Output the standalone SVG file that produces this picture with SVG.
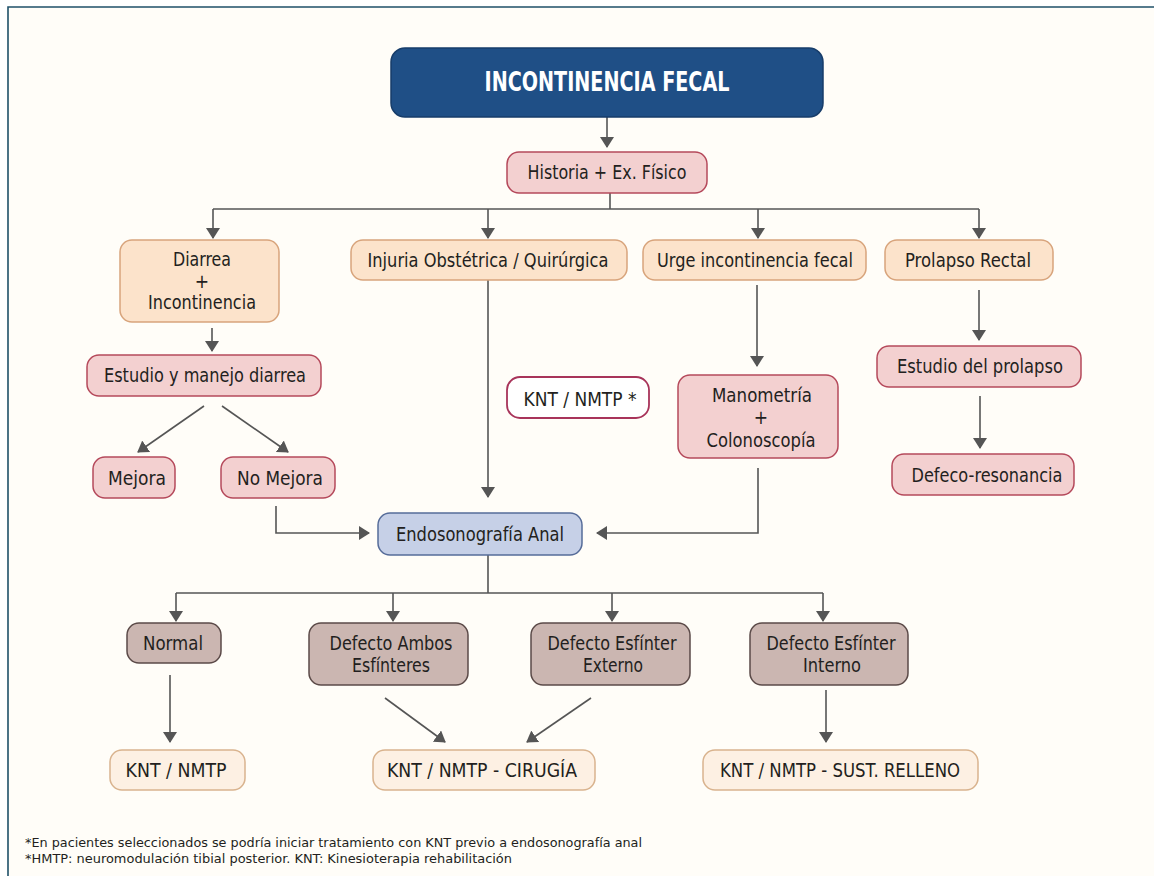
<svg xmlns="http://www.w3.org/2000/svg" width="1154" height="876" viewBox="0 0 1154 876">
<defs>
<marker id="ah" markerUnits="userSpaceOnUse" markerWidth="11" markerHeight="14" viewBox="0 0 11 14" refX="10" refY="7" orient="auto">
<path d="M0,0 L11,7 L0,14 z" fill="#555"/>
</marker>
<style>
text{font-family:"Liberation Sans Narrow","DejaVu Sans Condensed","Liberation Sans",sans-serif;font-size:19px;fill:#231f20;text-anchor:middle;}
.title{font-size:26px;font-weight:bold;fill:#ffffff;}
.foot{font-size:13px;text-anchor:start;}
.pink{fill:#f3d0d0;stroke:#b5495b;stroke-width:1.5;}
.peach{fill:#fce3cb;stroke:#d8a47c;stroke-width:1.5;}
.brown{fill:#cbb6b1;stroke:#5b4a48;stroke-width:1.5;}
.light{fill:#fdf0e3;stroke:#d9b38e;stroke-width:1.5;}
.blue{fill:#c6d0e7;stroke:#566c99;stroke-width:1.5;}
.white{fill:#ffffff;stroke:#a8345a;stroke-width:1.8;}
.c{fill:none;stroke:#555;stroke-width:1.6;}
</style>
</defs>
<rect x="0" y="0" width="1154" height="876" fill="#ffffff"/>
<rect x="8" y="7" width="1146" height="869" fill="#fffdf8"/>
<path d="M8,876 V7 H1154" fill="none" stroke="#1f5068" stroke-width="1.6"/>

<g id="connectors">
<path class="c" d="M607,117 V147" marker-end="url(#ah)"/>
<path class="c" d="M610,193 V209 M213,209 H979"/>
<path class="c" d="M213,209 V238" marker-end="url(#ah)"/>
<path class="c" d="M488,209 V238" marker-end="url(#ah)"/>
<path class="c" d="M758,209 V238" marker-end="url(#ah)"/>
<path class="c" d="M979,209 V238" marker-end="url(#ah)"/>
<path class="c" d="M212,328 V351" marker-end="url(#ah)"/>
<path class="c" d="M204,406 L138,452" marker-end="url(#ah)"/>
<path class="c" d="M222,406 L288,452" marker-end="url(#ah)"/>
<path class="c" d="M276,506 V533 H369" marker-end="url(#ah)"/>
<path class="c" d="M488,280 V497" marker-end="url(#ah)"/>
<path class="c" d="M757,285 V366" marker-end="url(#ah)"/>
<path class="c" d="M758,468 V533 H597" marker-end="url(#ah)"/>
<path class="c" d="M979,290 V340" marker-end="url(#ah)"/>
<path class="c" d="M980,396 V448" marker-end="url(#ah)"/>
<path class="c" d="M488,555 V593 M176,593 H823"/>
<path class="c" d="M176,593 V621" marker-end="url(#ah)"/>
<path class="c" d="M393,593 V621" marker-end="url(#ah)"/>
<path class="c" d="M612,593 V621" marker-end="url(#ah)"/>
<path class="c" d="M823,593 V621" marker-end="url(#ah)"/>
<path class="c" d="M170,675 V742" marker-end="url(#ah)"/>
<path class="c" d="M385,698 L445,742" marker-end="url(#ah)"/>
<path class="c" d="M591,698 L527,742" marker-end="url(#ah)"/>
<path class="c" d="M826,690 V742" marker-end="url(#ah)"/>
</g>

<g id="title"><rect x="391" y="48" width="432" height="69" rx="14" fill="#1f4f86" stroke="#173d6a" stroke-width="1.5"/><text class="title" x="607" y="91" textLength="245" lengthAdjust="spacingAndGlyphs">INCONTINENCIA FECAL</text></g>
<g id="historia"><rect class="pink" x="507" y="152" width="200" height="41" rx="12"/><text x="607" y="179" textLength="159" lengthAdjust="spacingAndGlyphs">Historia + Ex. Físico</text></g>
<g id="diarrea"><rect class="peach" x="120" y="240" width="159" height="82" rx="12"/><text x="202" y="266" textLength="58" lengthAdjust="spacingAndGlyphs">Diarrea</text><text x="202" y="288">+</text><text x="202" y="309" textLength="108" lengthAdjust="spacingAndGlyphs">Incontinencia</text></g>
<g id="injuria"><rect class="peach" x="351" y="240" width="276" height="40" rx="12"/><text x="488" y="267" textLength="241" lengthAdjust="spacingAndGlyphs">Injuria Obstétrica / Quirúrgica</text></g>
<g id="urge"><rect class="peach" x="643" y="240" width="223" height="40" rx="12"/><text x="755" y="267" textLength="196" lengthAdjust="spacingAndGlyphs">Urge incontinencia fecal</text></g>
<g id="prolapso"><rect class="peach" x="885" y="240" width="168" height="40" rx="12"/><text x="968" y="267" textLength="126" lengthAdjust="spacingAndGlyphs">Prolapso Rectal</text></g>
<g id="estudio-diarrea"><rect class="pink" x="87" y="355" width="234" height="41" rx="12"/><text x="205" y="382" textLength="202" lengthAdjust="spacingAndGlyphs">Estudio y manejo diarrea</text></g>
<g id="mejora"><rect class="pink" x="93" y="457" width="82" height="41" rx="12"/><text x="137" y="485" textLength="58" lengthAdjust="spacingAndGlyphs">Mejora</text></g>
<g id="no-mejora"><rect class="pink" x="221" y="457" width="114" height="41" rx="12"/><text x="280" y="485" textLength="86" lengthAdjust="spacingAndGlyphs">No Mejora</text></g>
<g id="knt-star"><rect class="white" x="507" y="377" width="142" height="41" rx="13"/><text x="580" y="406" textLength="113" lengthAdjust="spacingAndGlyphs">KNT / NMTP *</text></g>
<g id="manometria"><rect class="pink" x="678" y="375" width="160" height="83" rx="12"/><text x="762" y="402" textLength="100" lengthAdjust="spacingAndGlyphs">Manometría</text><text x="761" y="424">+</text><text x="761" y="447" textLength="109" lengthAdjust="spacingAndGlyphs">Colonoscopía</text></g>
<g id="estudio-prolapso"><rect class="pink" x="877" y="346" width="204" height="41" rx="12"/><text x="980" y="373" textLength="166" lengthAdjust="spacingAndGlyphs">Estudio del prolapso</text></g>
<g id="defeco"><rect class="pink" x="892" y="454" width="182" height="41" rx="12"/><text x="987" y="482" textLength="151" lengthAdjust="spacingAndGlyphs">Defeco-resonancia</text></g>
<g id="endo"><rect class="blue" x="378" y="513" width="204" height="42" rx="12"/><text x="480" y="541" textLength="168" lengthAdjust="spacingAndGlyphs">Endosonografía Anal</text></g>
<g id="normal"><rect class="brown" x="127" y="623" width="94" height="40" rx="12"/><text x="173" y="650" textLength="60" lengthAdjust="spacingAndGlyphs">Normal</text></g>
<g id="ambos"><rect class="brown" x="309" y="623" width="159" height="62" rx="12"/><text x="391" y="650" textLength="123" lengthAdjust="spacingAndGlyphs">Defecto Ambos</text><text x="391" y="672" textLength="78" lengthAdjust="spacingAndGlyphs">Esfínteres</text></g>
<g id="externo"><rect class="brown" x="531" y="623" width="159" height="62" rx="12"/><text x="612" y="650" textLength="129" lengthAdjust="spacingAndGlyphs">Defecto Esfínter</text><text x="613" y="672" textLength="60" lengthAdjust="spacingAndGlyphs">Externo</text></g>
<g id="interno"><rect class="brown" x="750" y="623" width="158" height="62" rx="12"/><text x="831" y="650" textLength="129" lengthAdjust="spacingAndGlyphs">Defecto Esfínter</text><text x="832" y="672" textLength="58" lengthAdjust="spacingAndGlyphs">Interno</text></g>
<g id="knt-nmtp"><rect class="light" x="110" y="750" width="135" height="40" rx="12"/><text x="176" y="777" textLength="101" lengthAdjust="spacingAndGlyphs">KNT / NMTP</text></g>
<g id="knt-cirugia"><rect class="light" x="373" y="750" width="222" height="40" rx="12"/><text x="482" y="777" textLength="190" lengthAdjust="spacingAndGlyphs">KNT / NMTP - CIRUGÍA</text></g>
<g id="knt-sust"><rect class="light" x="703" y="750" width="275" height="40" rx="12"/><text x="840" y="777" textLength="240" lengthAdjust="spacingAndGlyphs">KNT / NMTP - SUST. RELLENO</text></g>

<g id="footnotes">
<text class="foot" x="25" y="847" textLength="617" lengthAdjust="spacingAndGlyphs">*En pacientes seleccionados se podría iniciar tratamiento con KNT previo a endosonografía anal</text>
<text class="foot" x="25" y="863" textLength="487" lengthAdjust="spacingAndGlyphs">*HMTP: neuromodulación tibial posterior. KNT: Kinesioterapia rehabilitación</text>
</g>
</svg>
